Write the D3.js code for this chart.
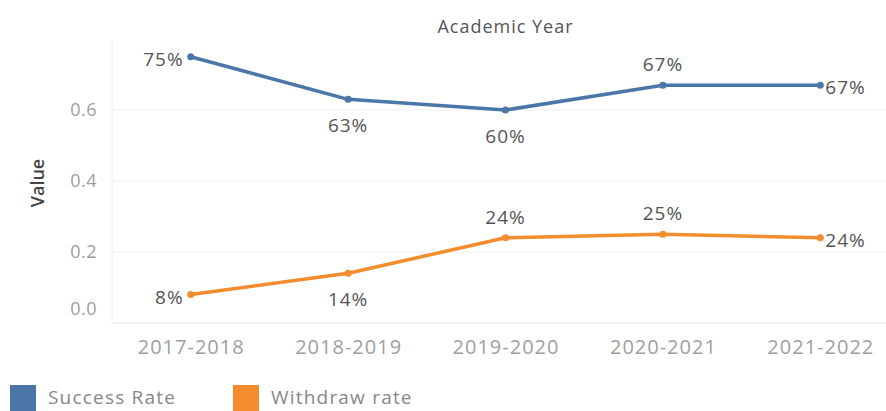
<!DOCTYPE html>
<html>
<head>
<meta charset="utf-8">
<script src="https://cdn.jsdelivr.net/npm/d3@7"></script>
<style>
  body { margin: 0; background: #fff; }
  text { font-family: "Open Sans", sans-serif; }
</style>
</head>
<body>
<div id="chart"></div>
<script>
let years = ['2017-2018', '2018-2019', '2019-2020', '2020-2021', '2021-2022'];
let successRate = [0.75, 0.63, 0.60, 0.67, 0.67];
let withdrawRate = [0.08, 0.14, 0.24, 0.25, 0.24];
let yTicks = [0, 0.2, 0.4, 0.6];
let seriesNames = ['Success Rate', 'Withdraw rate'];

// where each mark label sits relative to its point
let successPlace = ['left', 'below', 'below', 'above', 'right'];
let withdrawPlace = ['left', 'below', 'above', 'above', 'right'];

let width = 886;
let height = 411;
let margin = {top: 39, right: -13, bottom: 88, left: 112};
let colors = ['#4a76a8', '#f28c2c'];

let svg = d3.select('#chart').append('svg')
    .attr('width', width)
    .attr('height', height);

let x = d3.scalePoint()
    .domain(years)
    .range([margin.left, width - margin.right])
    .padding(0.5);

let y = d3.scaleLinear()
    .domain([0, 0.8])
    .range([height - margin.bottom, margin.top]);

// gridlines
svg.append('g')
    .selectAll('line')
    .data(yTicks)
    .join('line')
      .attr('x1', margin.left)
      .attr('x2', width)
      .attr('y1', d => y(d))
      .attr('y2', d => y(d))
      .attr('stroke', d => d === 0 ? '#e4e4e4' : '#f0f0f0')
      .attr('stroke-width', 1);

svg.append('line')
    .attr('x1', margin.left).attr('x2', margin.left)
    .attr('y1', margin.top).attr('y2', y(0))
    .attr('stroke', '#f0f0f0');

// y axis
let yAxis = svg.append('g')
    .attr('transform', `translate(${margin.left},0)`)
    .call(d3.axisLeft(y).tickValues(yTicks).tickFormat(d3.format('.1f')).tickSize(0).tickPadding(15));
yAxis.select('.domain').remove();
yAxis.selectAll('text')
    .attr('fill', '#a0a0a0')
    .style('font-size', '18px')
    .style('letter-spacing', '0.5px')
    .attr('dy', d => d === 0 ? '-0.5em' : '0.32em');

svg.append('text')
    .attr('transform', `translate(44,${y(0.4) + 2}) rotate(-90)`)
    .attr('text-anchor', 'middle')
    .attr('fill', '#444')
    .style('font-size', '18px')
    .style('font-weight', '600')
    .text('Value');

// x axis
let xAxis = svg.append('g')
    .attr('transform', `translate(0,${y(0)})`)
    .call(d3.axisBottom(x).tickSize(0).tickPadding(17));
xAxis.select('.domain').remove();
xAxis.selectAll('text')
    .attr('fill', '#a0a0a0')
    .style('font-size', '20px')
    .style('letter-spacing', '1px');

svg.append('text')
    .attr('x', x('2019-2020'))
    .attr('y', 33)
    .attr('text-anchor', 'middle')
    .attr('fill', '#555')
    .style('font-size', '18px')
    .style('letter-spacing', '1px')
    .text('Academic Year');

let line = d3.line()
    .x((d, i) => x(years[i]))
    .y(d => y(d));

function drawSeries(values, color, place) {
    let g = svg.append('g');
    g.append('path')
        .datum(values)
        .attr('d', line)
        .attr('fill', 'none')
        .attr('stroke', color)
        .attr('stroke-width', 3.5)
        .attr('stroke-linejoin', 'round');
    g.selectAll('circle')
        .data(values)
        .join('circle')
          .attr('cx', (d, i) => x(years[i]))
          .attr('cy', d => y(d))
          .attr('r', 3.5)
          .attr('fill', color);
    g.selectAll('text')
        .data(values)
        .join('text')
          .attr('x', (d, i) => {
              let p = place[i];
              if (p === 'left') return x(years[i]) - 7;
              if (p === 'right') return x(years[i]) + 5;
              return x(years[i]);
          })
          .attr('y', (d, i) => {
              let p = place[i];
              if (p === 'above') return y(d) - 14;
              if (p === 'below') return y(d) + 33;
              return y(d) + 9;
          })
          .attr('text-anchor', (d, i) => place[i] === 'left' ? 'end' : place[i] === 'right' ? 'start' : 'middle')
          .attr('fill', '#555')
          .style('font-size', '19px')
          .style('letter-spacing', '1px')
          .text(d => d3.format('.0%')(d));
}

drawSeries(successRate, colors[0], successPlace);
drawSeries(withdrawRate, colors[1], withdrawPlace);

// legend
let legend = svg.append('g')
    .selectAll('g')
    .data(seriesNames)
    .join('g')
      .attr('transform', (d, i) => `translate(${i === 0 ? 10 : 233},385)`);
legend.append('rect')
    .attr('width', 26)
    .attr('height', 26)
    .attr('fill', (d, i) => colors[i]);
legend.append('text')
    .attr('x', 38)
    .attr('y', 19)
    .attr('fill', '#888')
    .style('font-size', '19px')
    .style('letter-spacing', '1.2px')
    .text(d => d);
</script>
</body>
</html>
